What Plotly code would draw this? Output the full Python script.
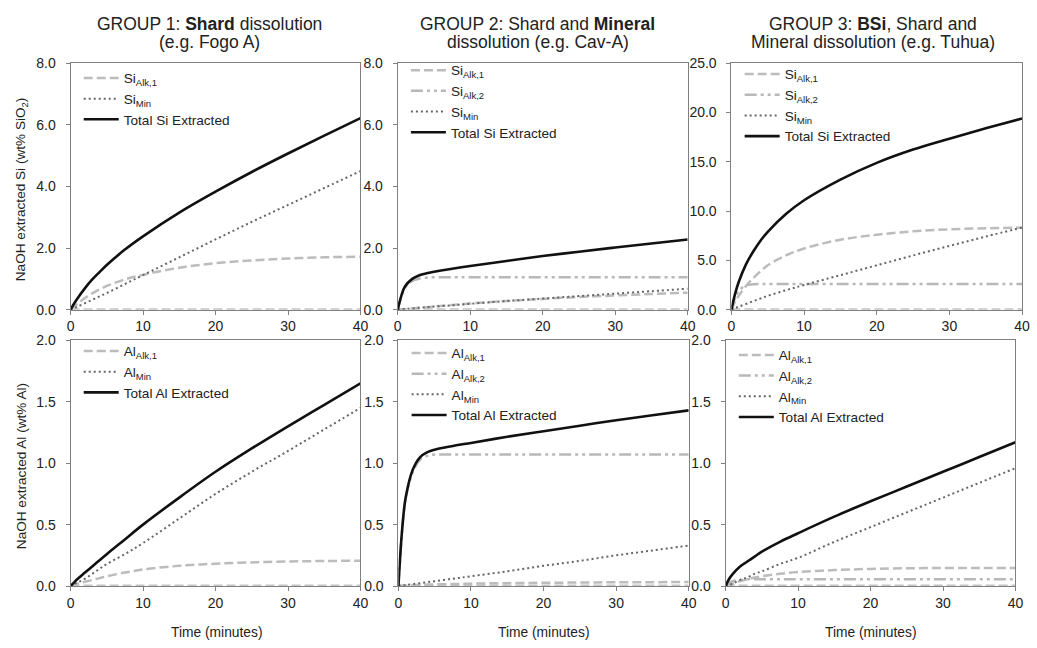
import plotly.graph_objects as go

# ---------------- data ----------------
t = [0, 0.5, 1, 2, 3, 4, 5, 7.5, 10, 15, 20, 25, 30, 35, 40]
zero = [0] * 15

# Group 1 - Si
g1_si_alk1 = [0, 0.10, 0.20, 0.38, 0.53, 0.66, 0.77, 0.98, 1.13, 1.36, 1.51, 1.60, 1.66, 1.70, 1.72]
g1_si_min = [0, 0.05, 0.10, 0.21, 0.32, 0.43, 0.54, 0.83, 1.12, 1.70, 2.28, 2.85, 3.40, 3.95, 4.50]
g1_si_tot = [0, 0.20, 0.38, 0.70, 0.98, 1.22, 1.45, 1.95, 2.38, 3.15, 3.83, 4.47, 5.07, 5.65, 6.22]
# Group 2 - Si
g2_si_alk1 = [0, 0.01, 0.02, 0.04, 0.06, 0.08, 0.10, 0.15, 0.20, 0.28, 0.35, 0.41, 0.46, 0.51, 0.55]
g2_si_alk2 = [0, 0.42, 0.70, 0.93, 1.01, 1.04, 1.05, 1.05, 1.05, 1.05, 1.05, 1.05, 1.05, 1.05, 1.05]
g2_si_min = [0, 0.01, 0.02, 0.04, 0.06, 0.08, 0.10, 0.14, 0.19, 0.28, 0.36, 0.44, 0.52, 0.60, 0.68]
g2_si_tot = [0, 0.45, 0.75, 1.00, 1.12, 1.18, 1.23, 1.33, 1.42, 1.58, 1.74, 1.88, 2.02, 2.15, 2.28]
# Group 3 - Si
g3_si_alk1 = [0, 0.8, 1.4, 2.4, 3.2, 3.9, 4.5, 5.5, 6.2, 7.1, 7.6, 7.95, 8.15, 8.26, 8.33]
g3_si_alk2 = [0, 1.2, 1.9, 2.45, 2.57, 2.6, 2.6, 2.6, 2.6, 2.6, 2.6, 2.6, 2.6, 2.6, 2.6]
g3_si_min = [0, 0.15, 0.30, 0.58, 0.86, 1.13, 1.40, 1.97, 2.50, 3.50, 4.50, 5.50, 6.47, 7.42, 8.33]
g3_si_tot = [0, 1.6, 2.8, 4.6, 5.9, 7.0, 7.9, 9.7, 11.1, 13.2, 14.9, 16.25, 17.35, 18.4, 19.4]
# Group 1 - Al
g1_al_alk1 = [0, 0.01, 0.02, 0.035, 0.05, 0.065, 0.08, 0.11, 0.135, 0.165, 0.182, 0.193, 0.20, 0.204, 0.207]
g1_al_min = [0, 0.015, 0.03, 0.06, 0.10, 0.14, 0.18, 0.26, 0.35, 0.55, 0.75, 0.93, 1.10, 1.275, 1.45]
g1_al_tot = [0, 0.03, 0.06, 0.11, 0.16, 0.21, 0.26, 0.38, 0.50, 0.72, 0.93, 1.12, 1.30, 1.475, 1.65]
# Group 2 - Al
g2_al_alk1 = [0, 0.002, 0.004, 0.007, 0.01, 0.012, 0.014, 0.017, 0.02, 0.024, 0.027, 0.029, 0.031, 0.032, 0.033]
g2_al_alk2 = [0, 0.45, 0.71, 0.93, 1.03, 1.06, 1.07, 1.07, 1.07, 1.07, 1.07, 1.07, 1.07, 1.07, 1.07]
g2_al_min = [0, 0.004, 0.008, 0.016, 0.024, 0.032, 0.04, 0.06, 0.08, 0.12, 0.165, 0.205, 0.25, 0.29, 0.33]
g2_al_tot = [0, 0.45, 0.72, 0.95, 1.05, 1.09, 1.11, 1.14, 1.165, 1.215, 1.26, 1.305, 1.35, 1.39, 1.43]
# Group 3 - Al
g3_al_alk1 = [0, 0.01, 0.02, 0.04, 0.055, 0.07, 0.08, 0.10, 0.115, 0.13, 0.14, 0.145, 0.147, 0.148, 0.148]
g3_al_alk2 = [0, 0.025, 0.04, 0.05, 0.055, 0.056, 0.056, 0.056, 0.056, 0.056, 0.056, 0.056, 0.056, 0.056, 0.056]
g3_al_min = [0, 0.01, 0.02, 0.05, 0.07, 0.10, 0.12, 0.18, 0.23, 0.36, 0.48, 0.60, 0.72, 0.84, 0.96]
g3_al_tot = [0, 0.06, 0.10, 0.16, 0.20, 0.24, 0.28, 0.36, 0.43, 0.565, 0.69, 0.81, 0.93, 1.05, 1.17]

col_titles = [("GROUP 1: <b>Shard</b> dissolution", "(e.g. Fogo A)"),
              ("GROUP 2: Shard and <b>Mineral</b>", "dissolution (e.g. Cav-A)"),
              ("GROUP 3: <b>BSi</b>, Shard and", "Mineral dissolution (e.g. Tuhua)")]
y_titles = ["NaOH extracted Si (wt% SiO<sub>2</sub>)", "NaOH extracted Al (wt% Al)"]
x_title = "Time (minutes)"

# ---------------- styles ----------------
FONT = "Liberation Sans, Arial, sans-serif"
STY = {
    "alk1": dict(color="#bcbcbc", width=2.5, dash="9px,4px"),
    "alk2": dict(color="#b8b8b8", width=2.5, dash="12px,4px,3px,4px,3px,4px"),
    "min": dict(color="#666666", width=2, dash="2px,3px"),
    "tot": dict(color="#111111", width=2.6),
    "zero": dict(color="#c4c4c4", width=3, dash="9px,4px"),
}

H = 648.0
panels = [
    # (element, series, ymax, dtick, xdomain, ydomain, legend top px)
    ("Si", [("alk1", g1_si_alk1), ("min", g1_si_min), ("tot", g1_si_tot)], 8, 2, [0.0649, 0.3478], [0.5227, 0.9125], 56),
    ("Si", [("alk1", g2_si_alk1), ("alk2", g2_si_alk2), ("min", g2_si_min), ("tot", g2_si_tot)], 8, 2, [0.3841, 0.6670], [0.5227, 0.9125], 48),
    ("Si", [("alk1", g3_si_alk1), ("alk2", g3_si_alk2), ("min", g3_si_min), ("tot", g3_si_tot)], 25, 5, [0.7097, 0.9932], [0.5227, 0.9125], 52),
    ("Al", [("alk1", g1_al_alk1), ("min", g1_al_min), ("tot", g1_al_tot)], 2, 0.5, [0.0649, 0.3478], [0.0853, 0.4742], 336),
    ("Al", [("alk1", g2_al_alk1), ("alk2", g2_al_alk2), ("min", g2_al_min), ("tot", g2_al_tot)], 2, 0.5, [0.3848, 0.6680], [0.0853, 0.4742], 338),
    ("Al", [("alk1", g3_al_alk1), ("alk2", g3_al_alk2), ("min", g3_al_min), ("tot", g3_al_tot)], 2, 0.5, [0.7040, 0.9868], [0.0853, 0.4742], 340),
]

names = {"alk1": "{e}<sub>Alk,1</sub>", "alk2": "{e}<sub>Alk,2</sub>",
         "min": "{e}<sub>Min</sub>", "tot": "Total {e} Extracted"}

fig = go.Figure()
layout = {}
for i, (el, series, ymax, dtick, xd, yd, ltop) in enumerate(panels):
    k = "" if i == 0 else str(i + 1)
    lg = "legend" + k
    fig.add_trace(go.Scatter(x=t, y=zero, mode="lines", line=STY["zero"], showlegend=False,
                             xaxis="x" + k, yaxis="y" + k, hoverinfo="skip"))
    for key, vals in series:
        fig.add_trace(go.Scatter(x=t, y=vals, mode="lines", line=STY[key], line_shape="spline",
                                 name=names[key].format(e=el), legend=lg,
                                 xaxis="x" + k, yaxis="y" + k))
    axcommon = dict(showline=True, mirror=True, linecolor="#808080", linewidth=1,
                    ticks="outside", ticklen=4, tickcolor="#808080", showgrid=False, zeroline=False,
                    tickfont=dict(family=FONT, size=14, color="#222"))
    layout["xaxis" + k] = dict(domain=xd, anchor="y" + k, range=[0, 40], dtick=10,
                               ticklabelstandoff=0, **axcommon)
    layout["yaxis" + k] = dict(domain=yd, anchor="x" + k, range=[0, ymax], dtick=dtick,
                               tickformat=".1f", ticklabelstandoff=7, **axcommon)
    layout[lg] = dict(x=xd[0] + 0.008, y=1 - ltop / H, xanchor="left", yanchor="top",
                      bgcolor="rgba(0,0,0,0)", borderwidth=0, itemwidth=35,
                      font=dict(family=FONT, size=13.6, color="#222"), tracegroupgap=0)

annots = []
for cx, (l1, l2) in zip([208 / 1037, 540 / 1037, 879 / 1037], col_titles):
    for cy, txt in ((16, l1), (35, l2)):
        annots.append(dict(x=cx, y=1 - cy / H, xref="paper", yref="paper", xanchor="center", yanchor="middle",
                           text=txt, showarrow=False, font=dict(family=FONT, size=17.5, color="#222")))
for cy, txt in zip([1 - 186 / H, 1 - 470 / H], y_titles):
    annots.append(dict(x=18 / 1037, y=cy, xref="paper", yref="paper", xanchor="center", yanchor="middle",
                       text=txt, textangle=-90, showarrow=False, font=dict(family=FONT, size=13.6, color="#222")))
for cx in [215 / 1037, 546 / 1037, 877 / 1037]:
    annots.append(dict(x=cx, y=1 - 640 / H, xref="paper", yref="paper", xanchor="center", yanchor="middle",
                       text=x_title, showarrow=False, font=dict(family=FONT, size=13.8, color="#222")))

fig.update_layout(width=1037, height=648, margin=dict(l=0, r=0, t=0, b=0),
                  paper_bgcolor="white", plot_bgcolor="white", annotations=annots,
                  font=dict(family=FONT, color="#222"), **layout)

fig.write_html("out.html")
